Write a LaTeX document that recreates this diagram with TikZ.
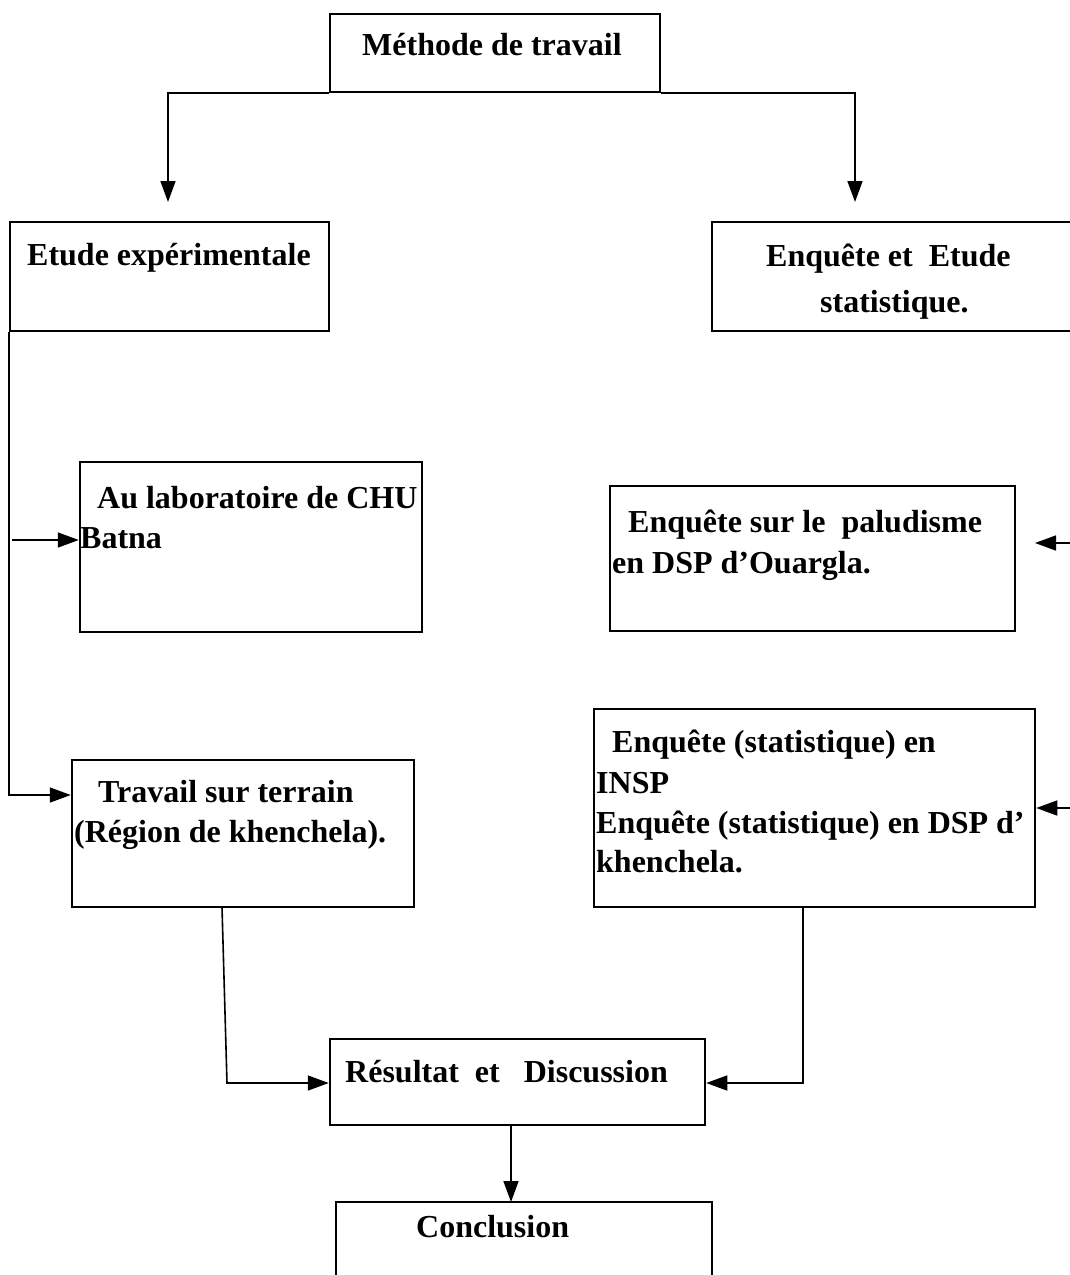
\documentclass[tikz,border=0pt]{standalone}
\usepackage{fontspec}
\setmainfont{Liberation Serif}
\usetikzlibrary{arrows.meta}
\begin{document}
\begin{tikzpicture}[x=1pt,y=-1pt,
  box/.style={draw, line width=2.5pt, minimum width=#1, inner sep=0pt},
  txt/.style={anchor=base west, inner sep=0pt, font=\fontsize{32}{40}\selectfont\bfseries},
  conn/.style={line width=1.6pt},
  arr/.style={conn, -{Triangle[length=21pt,width=15pt]}}]
\useasboundingbox (0,0) rectangle (1070,1275);
\clip (0,0) rectangle (1070,1275);
% boxes
\node[box=330pt, minimum height=78pt] (m) at (495,53) {};
\node[box=319pt, minimum height=109pt] (ee) at (169.5,276.5) {};
\node[box=378pt, minimum height=109pt] (es) at (901,276.5) {};
\node[box=342pt, minimum height=170pt] (lab) at (251,547) {};
\node[box=342pt, minimum height=147pt] (ter) at (243,833.5) {};
\node[box=405pt, minimum height=145pt] (pal) at (812.5,558.5) {};
\node[box=441pt, minimum height=198pt] (sta) at (814.5,808) {};
\node[box=375pt, minimum height=86pt] (res) at (517.5,1082) {};
\node[box=376pt, minimum height=120pt] (con) at (524,1262) {};
% texts
\node[txt] (t1) at (362,55) {Méthode de travail};
\node[txt] (t2) at (27,265) {Etude expérimentale};
\node[txt] (t3) at (766,266) {Enquête et\ \ Etude};
\node[txt] (t4) at (820,312) {statistique.};
\node[txt] (t5) at (97,508) {Au laboratoire de CHU};
\node[txt] (t6) at (80,548) {Batna};
\node[txt] (t7) at (628,532) {Enquête sur le\ \ paludisme};
\node[txt] (t8) at (612,573) {en DSP d’Ouargla.};
\node[txt] (t9) at (612,752) {Enquête (statistique) en};
\node[txt] (t10) at (596,793) {INSP};
\node[txt] (t11) at (596,833) {Enquête (statistique) en DSP d’};
\node[txt] (t12) at (596,872) {khenchela.};
\node[txt] (t13) at (98,802) {Travail sur terrain};
\node[txt] (t14) at (74,842) {(Région de khenchela).};
\node[txt] (t15) at (345,1082) {Résultat\ \ et\ \ \ Discussion};
\node[txt] (t16) at (416,1237) {Conclusion};
% free ends
\coordinate (a1) at (168,202);
\coordinate (a2) at (855,202);
\coordinate (l1) at (12,540);
\coordinate (r1) at (1070,543);
\coordinate (r1e) at (1035,543);
\coordinate (r2) at (1070,808);
\coordinate (lv) at (10,795);
\coordinate (tb) at (222,907);
\coordinate (tc) at (227,1083);
\coordinate (sb) at (803,907);
\coordinate (rb) at (511,1125);
\coordinate (ct) at (511,1202);
% connectors
\draw[arr] (m.south west) -| (a1);
\draw[arr] (m.south east) -| (a2);
\draw[arr] (ee.south west) |- (ter.west |- lv);
\draw[arr] (l1) -- (lab.west |- l1);
\draw[arr] (r1) -- (r1e);
\draw[arr] (r2) -- (sta.east |- r2);
\draw[arr] (tb) -- (tc) -- (res.west |- tc);
\draw[arr] (sb) |- (res.east |- tc);
\draw[arr] (rb) -- (ct);
\end{tikzpicture}
\end{document}
